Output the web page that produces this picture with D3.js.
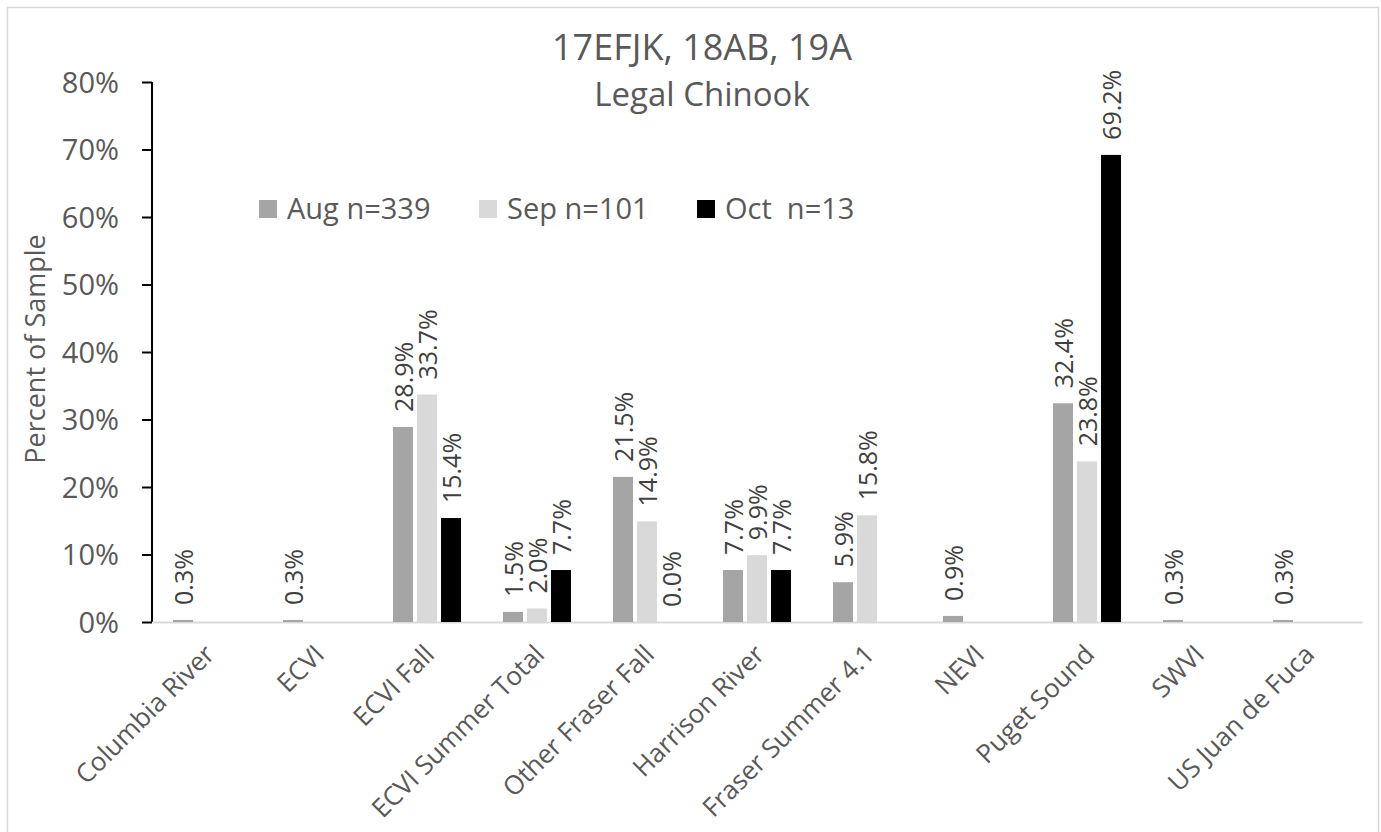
<!DOCTYPE html>
<html>
<head>
<meta charset="utf-8">
<script src="https://cdn.jsdelivr.net/npm/d3@7"></script>
<style>
  html, body { margin: 0; padding: 0; background: #fff; }
  svg { display: block; font-family: "Open Sans", "DejaVu Sans", sans-serif; }
</style>
</head>
<body>
<svg id="chart" width="1381" height="832"></svg>
<script>
// ---- data ----
const categories = ["Columbia River", "ECVI", "ECVI Fall", "ECVI Summer Total", "Other Fraser Fall",
  "Harrison River", "Fraser Summer 4.1", "NEVI", "Puget Sound", "SWVI", "US Juan de Fuca"];
const seriesNames = ["Aug n=339", "Sep n=101", "Oct  n=13"];
const augValues = [0.003, 0.003, 0.289, 0.015, 0.215, 0.077, 0.059, 0.009, 0.324, 0.003, 0.003];
const sepValues = [null, null, 0.337, 0.020, 0.149, 0.099, 0.158, null, 0.238, null, null];
const octValues = [null, null, 0.154, 0.077, 0.000, 0.077, null, null, 0.692, null, null];
const yTicks = [0, 0.1, 0.2, 0.3, 0.4, 0.5, 0.6, 0.7, 0.8];
const titleLines = ["17EFJK, 18AB, 19A", "Legal Chinook"];
const yAxisTitle = "Percent of Sample";
const seriesColors = ["#a5a5a5", "#d9d9d9", "#000000"];

const seriesValues = [augValues, sepValues, octValues];

const svg = d3.select("#chart");
const textColor = "#595959";

// chart border
svg.append("rect").attr("x", 7.5).attr("y", 7.5).attr("width", 1371).attr("height", 840)
  .attr("fill", "#fff").attr("stroke", "#d9d9d9").attr("stroke-width", 1.5);

const plot = { left: 152, right: 1362, top: 82, bottom: 622 };

const x = d3.scaleBand().domain(categories).range([plot.left, plot.right]).padding(0);
const y = d3.scaleLinear().domain([0, 0.8]).range([plot.bottom, plot.top]);
const xs = d3.scaleBand().domain(seriesNames).range([-34, 34]).paddingInner(1 / 6).paddingOuter(0);

// title
svg.append("text").attr("x", 702).attr("y", 60).attr("text-anchor", "middle")
  .attr("font-size", 36).attr("fill", textColor).text(titleLines[0]);
svg.append("text").attr("x", 702).attr("y", 106).attr("text-anchor", "middle")
  .attr("font-size", 33).attr("fill", textColor).text(titleLines[1]);

// y axis
const yAxis = d3.axisLeft(y).tickValues(yTicks).tickFormat(d3.format(".0%")).tickSize(10).tickPadding(0);
const yg = svg.append("g").attr("transform", `translate(${plot.left},0)`).call(yAxis);
yg.select(".domain").attr("stroke", "#000").attr("stroke-width", 2).attr("d", `M0,${plot.top}V${plot.bottom}`);
yg.selectAll(".tick line").attr("stroke", "#000").attr("stroke-width", 2);
yg.selectAll(".tick text").attr("x", -33).attr("dy", "0.36em").attr("font-size", 29)
  .attr("fill", textColor).attr("font-family", "Open Sans");

// y axis title
svg.append("text").attr("transform", `translate(45,349) rotate(-90)`).attr("text-anchor", "middle")
  .attr("font-size", 27).attr("fill", textColor).text(yAxisTitle);

// x axis baseline + rotated category labels
const xAxis = d3.axisBottom(x).tickSize(0).tickPadding(0);
const xg = svg.append("g").attr("transform", `translate(0,${plot.bottom})`).call(xAxis);
xg.select(".domain").attr("stroke", "#d9d9d9").attr("stroke-width", 2);
xg.selectAll(".tick").attr("transform", d => `translate(${x(d)},0)`);
xg.selectAll(".tick text")
  .attr("text-anchor", "end").attr("font-size", 26).attr("fill", textColor).attr("font-family", "Open Sans")
  .attr("dy", 0).attr("y", 0).attr("x", 0)
  .attr("transform", `translate(${x.bandwidth() / 2 + 9},34) rotate(-45)`);

// bars
const barData = [];
seriesNames.forEach((s, si) => {
  categories.forEach((c, ci) => {
    const v = seriesValues[si][ci];
    if (v !== null) barData.push({ s, si, c, v });
  });
});

svg.append("g").selectAll("rect").data(barData).join("rect")
  .attr("x", d => x(d.c) + x.bandwidth() / 2 + xs(d.s))
  .attr("width", xs.bandwidth())
  .attr("y", d => y(d.v))
  .attr("height", d => Math.max(0, y(0) - y(d.v)))
  .attr("fill", d => seriesColors[d.si]);

// data labels
svg.append("g").selectAll("text").data(barData).join("text")
  .attr("transform", d => {
    const cx = x(d.c) + x.bandwidth() / 2 + xs(d.s) + xs.bandwidth() / 2 + 10;
    const ty = y(d.v) - 15;
    return `translate(${cx},${ty}) rotate(-90)`;
  })
  .attr("text-anchor", "start").attr("font-size", 25).attr("fill", "#404040")
  .text(d => d3.format(".1%")(d.v));

// legend
const legendX = [259, 479, 697];
const lg = svg.append("g").selectAll("g").data(seriesNames).join("g")
  .attr("transform", (d, i) => `translate(${legendX[i]},200)`);
lg.append("rect").attr("width", 18).attr("height", 18).attr("fill", (d, i) => seriesColors[i]);
lg.append("text").attr("x", 28).attr("y", 19).attr("font-size", 29).attr("fill", textColor)
  .attr("xml:space", "preserve").style("white-space", "pre").text(d => d);
</script>
</body>
</html>
